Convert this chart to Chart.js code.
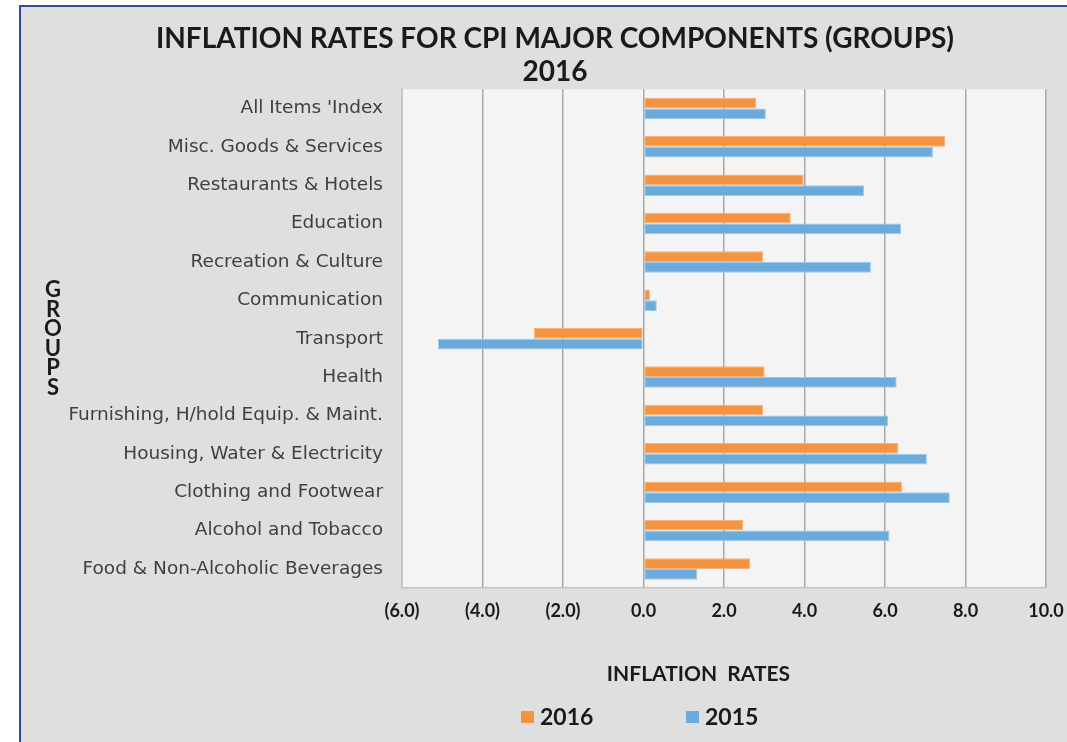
<!DOCTYPE html>
<html>
<head>
<meta charset="utf-8">
<script src="https://cdn.jsdelivr.net/npm/chart.js@4.4.1/dist/chart.umd.min.js"></script>
<style>
html,body{margin:0;padding:0;background:#ffffff;width:1067px;height:742px;overflow:hidden;}
#box{position:absolute;left:19px;top:5px;width:1100px;height:760px;border-left:2px solid #2f4b9b;border-top:2px solid #2f4b9b;background:#dfdfdf;}
#c{position:absolute;left:0;top:0;}
</style>
</head>
<body>
<div id="box"><canvas id="c" width="1068" height="735" style="width:1068px;height:735px;"></canvas></div>
<script>
// ---- data ----
const categories = [
  "All Items 'Index",
  "Misc. Goods & Services",
  "Restaurants & Hotels",
  "Education",
  "Recreation & Culture",
  "Communication",
  "Transport",
  "Health",
  "Furnishing, H/hold Equip. & Maint.",
  "Housing, Water & Electricity",
  "Clothing and Footwear",
  "Alcohol and Tobacco",
  "Food & Non-Alcoholic Beverages"
];
const rates2016 = [2.80, 7.50, 3.98, 3.66, 2.97, 0.16, -2.72, 3.01, 2.97, 6.33, 6.43, 2.48, 2.65];
const rates2015 = [3.04, 7.19, 5.48, 6.40, 5.65, 0.33, -5.11, 6.29, 6.08, 7.04, 7.61, 6.11, 1.34];
const seriesNames = ["2016", "2015"];
const xTickValues = [-6, -4, -2, 0, 2, 4, 6, 8, 10];
const titleLines = ["INFLATION RATES FOR CPI MAJOR COMPONENTS (GROUPS)", "2016"];
const xAxisTitle = "INFLATION  RATES";
const yAxisTitle = "GROUPS";

// ---- plugins ----
const plotBackground = {
  id: 'plotBackground',
  beforeDraw(chart) {
    const {ctx, chartArea: a} = chart;
    ctx.save();
    ctx.fillStyle = '#f4f4f4';
    ctx.fillRect(a.left, a.top, a.right - a.left, a.bottom - a.top);
    ctx.restore();
  }
};
const stackedYTitle = {
  id: 'stackedYTitle',
  afterDraw(chart) {
    const ctx = chart.ctx;
    ctx.save();
    ctx.font = 'bold 22px Lato';
    ctx.fillStyle = '#1a1a1a';
    ctx.textAlign = 'center';
    ctx.textBaseline = 'middle';
    const letters = yAxisTitle.split('');
    letters.forEach((ch, i) => ctx.fillText(ch, 32, 283 + i * 19.5));
    ctx.restore();
  }
};
const bottomLegend = {
  id: 'bottomLegend',
  afterDraw(chart) {
    const ctx = chart.ctx;
    ctx.save();
    ctx.font = 'bold 23px Lato';
    ctx.textBaseline = 'middle';
    ctx.textAlign = 'left';
    const starts = [500, 665];
    chart.data.datasets.forEach((ds, i) => {
      const x = starts[i];
      ctx.fillStyle = ds.backgroundColor;
      ctx.fillRect(x, 704, 13, 12);
      ctx.fillStyle = '#1a1a1a';
      ctx.fillText(ds.label, x + 19, 711);
    });
    ctx.restore();
  }
};

new Chart(document.getElementById('c'), {
  type: 'bar',
  data: {
    labels: categories,
    datasets: [
      {label: seriesNames[0], data: rates2016, backgroundColor: '#f39442', borderColor: '#f6b27c', borderWidth: 1, borderSkipped: false},
      {label: seriesNames[1], data: rates2015, backgroundColor: '#6aabdc', borderColor: '#9cc8ea', borderWidth: 1, borderSkipped: false}
    ]
  },
  plugins: [plotBackground, stackedYTitle, bottomLegend],
  options: {
    responsive: false,
    animation: false,
    indexAxis: 'y',
    layout: {padding: {left: 43, right: 43, top: 0, bottom: 55}},
    datasets: {bar: {categoryPercentage: 0.56, barPercentage: 1.0}},
    plugins: {
      legend: {display: false},
      tooltip: {enabled: false},
      title: {
        display: true,
        text: titleLines,
        color: '#1a1a1a',
        font: {family: 'Lato', size: 28, weight: 'bold', lineHeight: 1.2},
        padding: {top: 15, bottom: 0}
      }
    },
    scales: {
      x: {
        min: -6, max: 10,
        afterBuildTicks(scale) { scale.ticks = xTickValues.map(v => ({value: v})); },
        ticks: {
          color: '#1a1a1a',
          font: {family: 'Lato', size: 18, weight: 'bold'},
          padding: 12,
          callback: v => v < 0 ? '(' + Math.abs(v).toFixed(1) + ')' : Number(v).toFixed(1)
        },
        grid: {color: '#a8a8a8', lineWidth: 1.5, drawTicks: false},
        border: {display: true, color: '#c4c4c4', width: 1.5},
        title: {
          display: true,
          text: xAxisTitle + '          ',
          color: '#1a1a1a',
          font: {family: 'Lato', size: 21, weight: 'bold', lineHeight: 1.2},
          padding: {top: 28, bottom: 0}
        }
      },
      y: {
        afterFit(scale) { scale.width = 338; },
        ticks: {color: '#404040', font: {family: 'DejaVu Sans', size: 18.5}, padding: 19},
        grid: {display: false, drawTicks: false},
        border: {display: true, color: '#c4c4c4', width: 1.5}
      }
    }
  }
});
</script>
</body>
</html>
